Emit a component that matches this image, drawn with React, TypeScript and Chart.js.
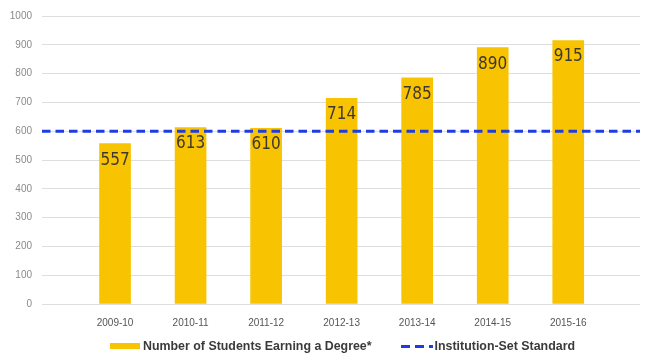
import React, { useEffect, useRef } from "react";
import { Chart, registerables } from "chart.js";

Chart.register(...registerables);

const CATEGORIES = ["2009-10", "2010-11", "2011-12", "2012-13", "2013-14", "2014-15", "2015-16"];
const DEGREES = [557, 613, 610, 714, 785, 890, 915];
const STANDARD = 600;
const Y_TICKS = [0, 100, 200, 300, 400, 500, 600, 700, 800, 900, 1000];
const SERIES_NAMES = ["Number of Students Earning a Degree*", "Institution-Set Standard"];

const BAR_COLOR = "#F8C300";
const LINE_COLOR = "#1E3CE2";
const X_MIN = -0.967;
const X_MAX = 6.95;

const labelPlugin = {
  id: "barLabels",
  afterDatasetsDraw(chart: any) {
    const ctx = chart.ctx;
    const meta = chart.getDatasetMeta(0);
    ctx.save();
    ctx.font = "17px 'Liberation Sans Narrow', 'DejaVu Sans Condensed', sans-serif";
    ctx.fillStyle = "#3f3830";
    ctx.textAlign = "center";
    ctx.textBaseline = "alphabetic";
    meta.data.forEach((el: any, i: number) => {
      ctx.fillText(String(DEGREES[i]), el.x, el.y + 21);
    });
    ctx.restore();
  },
};

export default function App() {
  const ref = useRef<HTMLCanvasElement | null>(null);
  useEffect(() => {
    if (!ref.current) return;
    const chart = new Chart(ref.current, {
      type: "bar",
      data: {
        datasets: [
          {
            type: "bar",
            label: SERIES_NAMES[0],
            data: DEGREES.map((v, i) => ({ x: i, y: v })),
            backgroundColor: BAR_COLOR,
            barThickness: 31,
            order: 2,
          },
          {
            type: "line",
            label: SERIES_NAMES[1],
            data: [
              { x: X_MIN, y: STANDARD },
              { x: X_MAX, y: STANDARD },
            ],
            borderColor: LINE_COLOR,
            borderWidth: 3,
            borderDash: [8.5, 5],
            pointRadius: 0,
            fill: false,
            order: 1,
          },
        ] as any,
      },
      plugins: [labelPlugin],
      options: {
        animation: false,
        responsive: false,
        maintainAspectRatio: false,
        layout: { padding: { top: 7, right: 8, left: 0, bottom: 0 } },
        plugins: { legend: { display: false }, tooltip: { enabled: false } },
        scales: {
          x: {
            type: "linear",
            min: X_MIN,
            max: X_MAX,
            offset: false,
            grid: { display: false, offset: false },
            border: { display: false },
            afterBuildTicks: (scale: any) => {
              scale.ticks = CATEGORIES.map((_, i) => ({ value: i }));
            },
            afterFit: (scale: any) => {
              scale.height = 50;
            },
            ticks: {
              padding: 5,
              maxRotation: 0,
              autoSkip: false,
              color: "#555555",
              font: { family: "'Liberation Sans', Arial, sans-serif", size: 10 },
              callback: (v: any) => CATEGORIES[Math.round(Number(v))] ?? "",
            },
          },
          y: {
            min: 0,
            max: 1000,
            afterBuildTicks: (scale: any) => {
              scale.ticks = Y_TICKS.map((v) => ({ value: v }));
            },
            afterFit: (scale: any) => {
              scale.width = 42;
            },
            grid: { color: "#dedede", lineWidth: 1, drawTicks: false },
            border: { display: false },
            ticks: {
              padding: 10,
              color: "#8a8a8a",
              font: { family: "'Liberation Sans', Arial, sans-serif", size: 10 },
              callback: (v: any) => String(v),
            },
          },
        },
      } as any,
    });
    return () => chart.destroy();
  }, []);

  return (
    <div style={{ position: "fixed", left: 0, top: 0, width: 648, height: 354, background: "#fff", overflow: "hidden" }}>
      <canvas ref={ref} width={648} height={354} style={{ position: "absolute", left: 0, top: 0, width: 648, height: 354 }} />
      <div
        style={{
          position: "absolute",
          left: 110,
          top: 338,
          height: 16,
          display: "flex",
          alignItems: "center",
          fontFamily: "'Liberation Sans', Arial, sans-serif",
          fontSize: 12.4,
          fontWeight: "bold",
          color: "#3a3a3a",
          whiteSpace: "nowrap",
        }}
      >
        <span style={{ display: "inline-block", width: 30, height: 6, background: BAR_COLOR, marginRight: 3 }} />
        <span>{SERIES_NAMES[0]}</span>
        <span
          style={{
            display: "inline-block",
            width: 32,
            height: 3,
            marginLeft: 29,
            marginRight: 2,
            backgroundImage: `repeating-linear-gradient(to right, ${LINE_COLOR} 0px, ${LINE_COLOR} 9px, transparent 9px, transparent 14px)`,
          }}
        />
        <span>{SERIES_NAMES[1]}</span>
      </div>
    </div>
  );
}
